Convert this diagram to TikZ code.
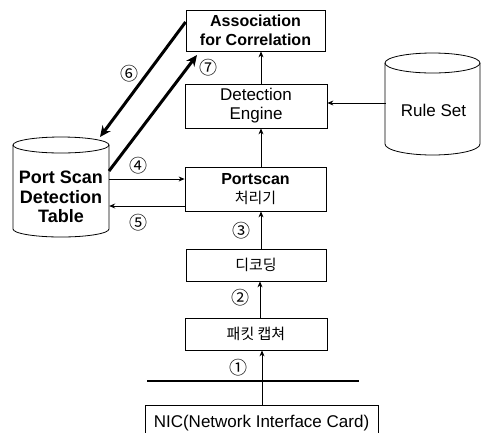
\documentclass[tikz,border=0pt]{standalone}
\usepackage{fontspec}
\setmainfont{Liberation Sans}
\newfontfamily\cjk{Noto Sans CJK KR}
\usetikzlibrary{arrows.meta}

\begin{document}
\begin{tikzpicture}[x=1pt,y=-1pt,
  box/.style={draw, line width=0.8pt, inner sep=0pt, align=center},
  reg/.style={font=\fontsize{17}{19}\selectfont},
  bld/.style={font=\bfseries\fontsize{16}{19}\selectfont},
  kor/.style={font=\cjk\fontsize{15}{17}\selectfont},
  arr/.style={-{Stealth[length=6pt,width=5pt]}, line width=0.8pt},
  fatarr/.style={-{Stealth[length=11pt,width=10pt]}, line width=3pt},
  num/.style={font=\cjk\fontsize{18}{18}\selectfont, inner sep=0pt},
  drum/.style={line width=0.8pt}]
\useasboundingbox (0,0) rectangle (481,432);
\clip (0,0) rectangle (481,432);

% processing chain
\node[box, bld, minimum width=139pt, minimum height=41pt] (assoc) at (255.5,30.5)
  {Association\\for Correlation};
\node[box, reg, minimum width=142pt, minimum height=44pt] (engine) at (256,106)
  {Detection\\Engine};
\node[box, minimum width=141pt, minimum height=44pt, align=center,
  font=\fontsize{16}{19}\selectfont] (portscan) at (255.5,189)
  {\bfseries Portscan\\{\cjk\fontsize{15}{19}\selectfont 처리기}};
\node[box, kor, minimum width=140pt, minimum height=32pt] (decode) at (256,265) {디코딩};
\node[box, kor, minimum width=142pt, minimum height=32pt] (capture) at (256,334) {패킷 캡쳐};
\node[box, minimum width=233pt, minimum height=40pt, anchor=north west] (nic) at (145,405) {};
\node[reg, anchor=north] (nictext) at (261.5,412) {NIC(Network Interface Card)};

% network line
\coordinate (netL) at (147,381);
\coordinate (netR) at (359,381);
\draw[line width=2.6pt] (netL) -- (netR);

% rule set drum
\draw[drum] (385,63) -- (385,144) arc[start angle=180, end angle=360, x radius=47.5pt, y radius=11pt]
  -- (480,63);
\draw[drum] (432.5,63) ellipse[x radius=47.5pt, y radius=10pt];
\node[reg, minimum width=95pt, minimum height=70pt, inner sep=0pt] (rules) at (433.5,110) {Rule Set};

% port scan table drum
\draw[drum] (13,145) -- (13,229) arc[start angle=180, end angle=360, x radius=48pt, y radius=8pt]
  -- (109,145);
\draw[drum] (61,145) ellipse[x radius=48pt, y radius=8pt];
\node[font=\bfseries\fontsize{18}{19.5}\selectfont, align=center, minimum width=96pt,
  minimum height=76pt, inner sep=0pt] (table) at (61,197) {Port Scan\\Detection\\Table};

% vertical flow
\draw[arr] (nic.north -| 262,0) -- (capture.south -| 262,0);
\draw[arr] (capture.north -| 260,0) -- (decode.south -| 260,0);
\draw[arr] (decode.north -| 261,0) -- (portscan.south -| 261,0);
\draw[arr] (portscan.north -| 261,0) -- (engine.south -| 261,0);
\draw[arr] (engine.north -| 261,0) -- (assoc.south -| 261,0);
\draw[arr] (rules.west |- 0,103) -- (engine.east |- 0,103);

% table exchange
\draw[arr] (table.east |- 0,179) -- (portscan.west |- 0,179);
\draw[arr] (portscan.west |- 0,206) -- (table.east |- 0,206);
\coordinate (tabletop) at (100,137);
\coordinate (tableside) at (109,171);
\coordinate (assocfoot) at (197,55);
\draw[fatarr] (assoc.west |- 0,22) -- (tabletop);
\draw[fatarr] (tableside) -- (assocfoot);

% step numbers
\node[num] (n1) at (238,368) {①};
\node[num] (n2) at (240,298) {②};
\node[num] (n3) at (241,231) {③};
\node[num] (n4) at (138,166) {④};
\node[num] (n5) at (138,223) {⑤};
\node[num] (n6) at (129,74) {⑥};
\node[num] (n7) at (208,68) {⑦};
\end{tikzpicture}
\end{document}
